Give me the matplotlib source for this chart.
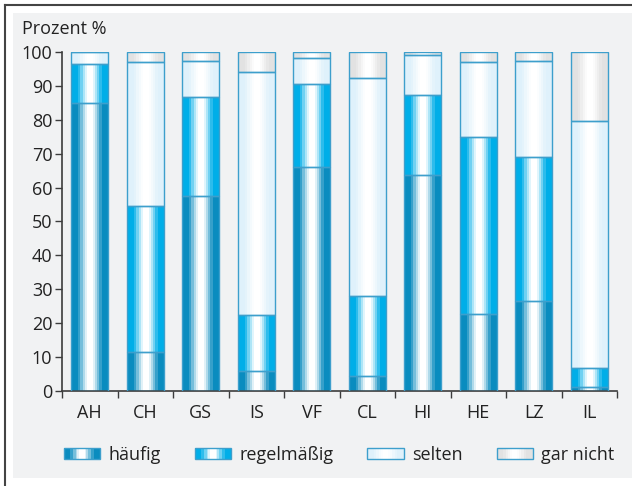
import numpy as np
import matplotlib
matplotlib.use('Agg')
import matplotlib.pyplot as plt
from matplotlib.patches import Rectangle
from matplotlib.lines import Line2D
from matplotlib.legend_handler import HandlerBase
from matplotlib.colors import to_rgb

plt.rcParams['font.family'] = ['Open Sans', 'DejaVu Sans']

# Data (Prozent)
categories = ['AH', 'CH', 'GS', 'IS', 'VF', 'CL', 'HI', 'HE', 'LZ', 'IL']
haeufig = [85.0, 11.4, 57.5, 5.8, 66.0, 4.3, 63.7, 22.7, 26.5, 1.3]
regelmaessig = [11.5, 43.1, 29.1, 16.7, 24.6, 23.7, 23.5, 52.2, 42.6, 5.5]
selten = [3.5, 42.5, 10.7, 71.7, 7.7, 64.2, 11.9, 22.1, 28.2, 72.7]
gar_nicht = [0.0, 3.0, 2.7, 5.8, 1.7, 7.8, 0.9, 3.0, 2.7, 20.5]
series_names = ['häufig', 'regelmäßig', 'selten', 'gar nicht']

# edge colour of each stripe gradient (centre is white)
edge_cols = ['#0a8cbf', '#00aee8', '#dff1fb', '#e2e2e2']
outline = '#3d9fcc'
NCOL = 40
band_edges = [0.13, 0.23, 0.37, 0.5, 0.64]
band_mix = [0.0, 0.12, 0.32, 0.56, 0.82, 1.0]


def stripe_colors(edge, n=NCOL):
    t = (np.arange(n) + 0.5) / n
    d = np.abs(t - 0.5) * 2
    f = np.array(band_mix)[np.searchsorted(band_edges, d)]
    e = np.array(to_rgb(edge))
    return (1 - f)[:, None] * np.ones(3) + f[:, None] * e


class GradientHandler(HandlerBase):
    def __init__(self, edge):
        super().__init__()
        self.edge = edge

    def create_artists(self, legend, orig_handle, xdescent, ydescent,
                       width, height, fontsize, trans):
        cols = stripe_colors(self.edge)
        n = len(cols)
        arts = []
        for i, c in enumerate(cols):
            r = Rectangle((-xdescent + i * width / n, -ydescent), width / n,
                          height, facecolor=c, edgecolor='none',
                          transform=trans)
            arts.append(r)
        arts.append(Rectangle((-xdescent, -ydescent), width, height,
                              facecolor='none', edgecolor=outline, lw=1,
                              transform=trans))
        return arts


fig = plt.figure(figsize=(6.32, 4.86), dpi=100)
fig.patch.set_facecolor('white')
# gray panel + frame lines
fig.patches.append(Rectangle((13 / 632, 1 - 478 / 486), 1, (478 - 13) / 486,
                             transform=fig.transFigure, facecolor='#f1f2f3',
                             edgecolor='none', zorder=-10))
fig.lines.append(Line2D([5 / 632, 5 / 632], [0, 1 - 5 / 486],
                        transform=fig.transFigure, color='#444444', lw=1.5))
fig.lines.append(Line2D([5 / 632, 631 / 632], [1 - 5 / 486, 1 - 5 / 486],
                        transform=fig.transFigure, color='#444444', lw=1.5))

ax = fig.add_axes([62 / 632, 1 - 391 / 486, (617 - 62) / 632, (391 - 52) / 486])
ax.set_facecolor('#f1f2f3')

x = np.arange(len(categories))
w = 0.67
series = [haeufig, regelmaessig, selten, gar_nicht]
bottom = np.zeros(len(categories))
for vals, edge in zip(series, edge_cols):
    vals = np.array(vals)
    grad = stripe_colors(edge)[None, :, :]
    bars = ax.bar(x, vals, w, bottom=bottom, facecolor='none',
                  edgecolor=outline, lw=1, zorder=3)
    for xi, b, v in zip(x, bottom, vals):
        if v <= 0:
            continue
        ax.imshow(grad, extent=[xi - w / 2, xi + w / 2, b, b + v],
                  aspect='auto', interpolation='nearest', zorder=2)
    bottom = bottom + vals

ax.set_xlim(-0.5, len(categories) - 0.5)
ax.set_ylim(0, 100)
ax.set_aspect('auto')
for s in ['top', 'right']:
    ax.spines[s].set_visible(False)
for s in ['left', 'bottom']:
    ax.spines[s].set_color('#3c3c3c')
    ax.spines[s].set_linewidth(1.2)

ax.set_yticks(np.arange(0, 101, 10))
ax.tick_params(axis='y', direction='out', length=5, width=1, color='#3c3c3c',
               labelsize=13, pad=2, labelcolor='#222222')
ax.set_xticks(x)
ax.set_xticklabels(categories)
ax.tick_params(axis='x', length=0, labelsize=13, pad=9, labelcolor='#222222')
ax.set_xticks(np.arange(-0.5, len(categories)), minor=True)
ax.tick_params(axis='x', which='minor', direction='out', length=5, width=1,
               color='#3c3c3c')

fig.text(22 / 632, 1 - 20 / 486, 'Prozent %', fontsize=13, color='#222222',
         ha='left', va='top')

handles = [Rectangle((0, 0), 1, 1) for _ in series_names]
hmap = {h: GradientHandler(e) for h, e in zip(handles, edge_cols)}
fig.legend(handles, series_names, handler_map=hmap, loc='center',
           bbox_to_anchor=(339 / 632, 1 - 455 / 486), ncol=4, frameon=False,
           fontsize=13, handlelength=2.0, handleheight=0.5,
           handletextpad=0.45, columnspacing=1.9, labelcolor='#222222')

fig.savefig('out.png', dpi=100)
